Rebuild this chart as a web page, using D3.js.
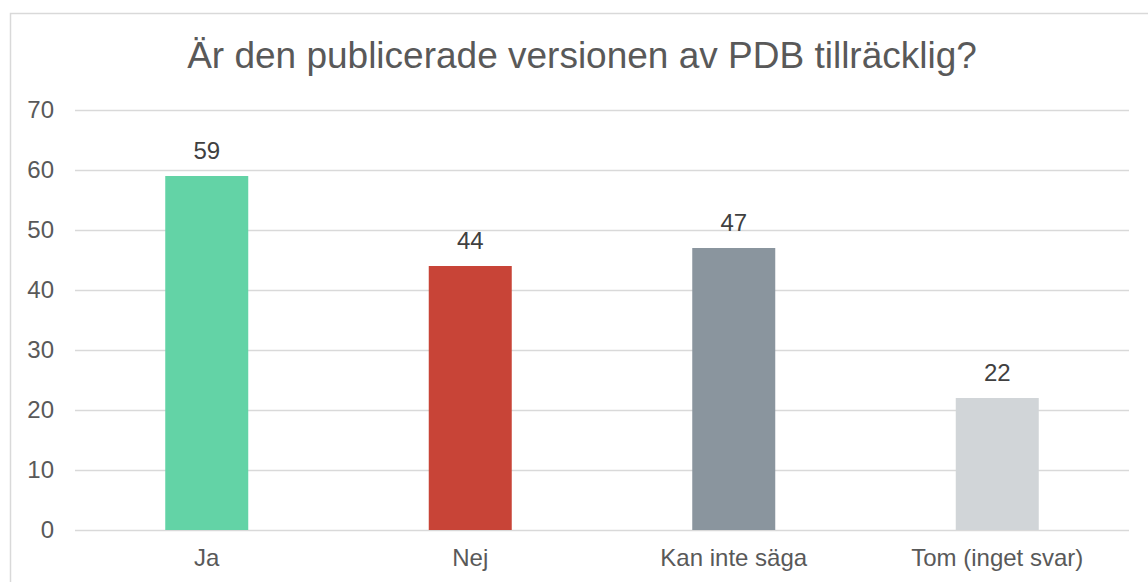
<!DOCTYPE html>
<html>
<head>
<meta charset="utf-8">
<script src="https://cdn.jsdelivr.net/npm/d3@7"></script>
<style>
  html, body { margin: 0; background: #fff; overflow: hidden; }
  svg { display: block; }
  text { font-family: Arial, 'Liberation Sans', sans-serif; }
</style>
</head>
<body>
<svg id="chart" width="1148" height="582"></svg>
<script>
const title = 'Är den publicerade versionen av PDB tillräcklig?'
const categories = ['Ja', 'Nej', 'Kan inte säga', 'Tom (inget svar)']
const values = [59, 44, 47, 22]
const barColors = ['#63d3a6', '#c84437', '#8a959e', '#d1d5d8']
const yTicks = [0, 10, 20, 30, 40, 50, 60, 70]

const svg = d3.select('#chart')
const margin = { left: 75, right: 19, top: 110, bottom: 52 }
const width = 1148
const height = 582

// chart frame, runs off the right and bottom edge
svg.append('rect')
  .attr('x', 10.5)
  .attr('y', 13.5)
  .attr('width', 1160)
  .attr('height', 600)
  .attr('fill', 'none')
  .attr('stroke', '#d9d9d9')
  .attr('stroke-width', 1.5)

svg.append('text')
  .attr('x', 582)
  .attr('y', 68)
  .attr('text-anchor', 'middle')
  .attr('font-size', 37)
  .attr('fill', '#595959')
  .text(title)

const x = d3.scaleBand()
  .domain(categories)
  .range([margin.left, width - margin.right])
  .padding(0)

const y = d3.scaleLinear()
  .domain([0, 70])
  .range([height - margin.bottom, margin.top])

// gridlines
svg.append('g')
  .selectAll('line')
  .data(yTicks)
  .join('line')
  .attr('x1', margin.left)
  .attr('x2', width - margin.right)
  .attr('y1', d => Math.round(y(d)) + 0.5)
  .attr('y2', d => Math.round(y(d)) + 0.5)
  .attr('stroke', '#d9d9d9')
  .attr('stroke-width', 1.5)

// y tick labels
svg.append('g')
  .selectAll('text')
  .data(yTicks)
  .join('text')
  .attr('x', 54)
  .attr('y', d => y(d))
  .attr('dy', '0.35em')
  .attr('text-anchor', 'end')
  .attr('font-size', 24)
  .attr('fill', '#595959')
  .text(d => d)

const barWidth = x.bandwidth() * 0.315

svg.append('g')
  .selectAll('rect')
  .data(values)
  .join('rect')
  .attr('x', (d, i) => x(categories[i]) + (x.bandwidth() - barWidth) / 2)
  .attr('y', d => y(d))
  .attr('width', barWidth)
  .attr('height', d => y(0) - y(d))
  .attr('fill', (d, i) => barColors[i])

// value labels
svg.append('g')
  .selectAll('text')
  .data(values)
  .join('text')
  .attr('x', (d, i) => x(categories[i]) + x.bandwidth() / 2)
  .attr('y', d => y(d) - 17)
  .attr('text-anchor', 'middle')
  .attr('font-size', 24)
  .attr('fill', '#404040')
  .text(d => d)

// category labels
svg.append('g')
  .selectAll('text')
  .data(categories)
  .join('text')
  .attr('x', d => x(d) + x.bandwidth() / 2)
  .attr('y', 566)
  .attr('text-anchor', 'middle')
  .attr('font-size', 24)
  .attr('fill', '#595959')
  .text(d => d)
</script>
</body>
</html>
